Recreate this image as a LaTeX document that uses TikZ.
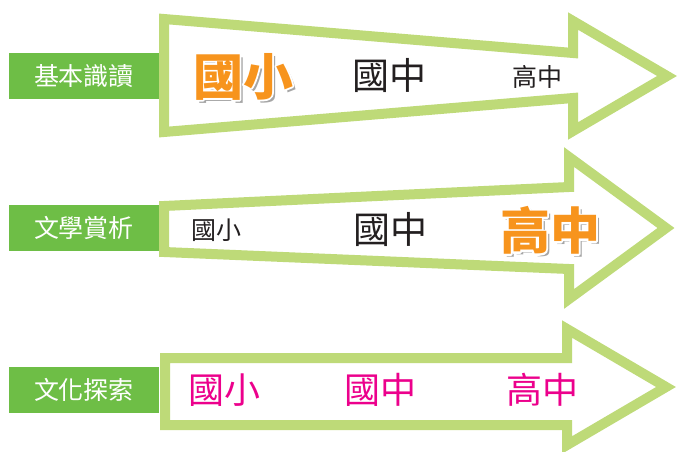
\documentclass[tikz,border=0pt]{standalone}
\usepackage{fontspec}
\newfontfamily\cjk{Noto Sans CJK TC}
\definecolor{arrowgreen}{RGB}{190,218,120}
\definecolor{labelgreen}{RGB}{110,190,70}
\definecolor{hlorange}{RGB}{247,148,29}
\definecolor{hlpink}{RGB}{236,0,140}
\definecolor{inkblack}{RGB}{35,31,32}
\newcommand{\glowtext}[1]{%
  \makebox[0pt][l]{\hspace{3pt}\raisebox{-3pt}{\textcolor{black!35}{#1}}}%
  \makebox[0pt][l]{\special{pdf:literal direct 1 Tr 3.5 w 1 j 1 1 1 RG}#1\special{pdf:literal direct 0 Tr}}%
  #1}

\begin{document}
\begin{tikzpicture}[x=1pt,y=-1pt,
  arrow/.style={draw=arrowgreen,line width=10pt,line join=miter,fill=white},
  label/.style={fill=labelgreen,text=white,font=\cjk\fontsize{25}{25}\selectfont,minimum width=150pt,minimum height=46pt,inner sep=0pt},
  big/.style={text=hlorange,font=\cjk\bfseries\fontsize{50}{50}\selectfont,inner sep=0pt},
  mid/.style={text=inkblack,font=\cjk\fontsize{37}{37}\selectfont,inner sep=0pt},
  small/.style={text=inkblack,font=\cjk\fontsize{25}{25}\selectfont,inner sep=0pt},
  pink/.style={text=hlpink,font=\cjk\fontsize{36}{36}\selectfont,inner sep=0pt}]
\useasboundingbox (0,0) rectangle (680,452);

\draw[arrow] (164,19) -- (573,53) -- (573,21) -- (667,76) -- (573,131) -- (573,98) -- (164,132) -- cycle;
\draw[arrow] (164,206) -- (569,187) -- (569,157) -- (666,228) -- (569,299) -- (569,269) -- (164,252) -- cycle;
\draw[arrow] (165,358) -- (567,358) -- (567,329) -- (666,387) -- (567,445) -- (567,425) -- (165,425) -- cycle;

\node[label] (basic) at (84,76) {基本識讀};
\node[label] (lit) at (84,228) {文學賞析};
\node[label] (culture) at (84,390) {文化探索};

\node[big] (basicA) at (243,78) {\glowtext{國小}};
\node[mid] (basicB) at (389,75) {國中};
\node[small] (basicC) at (537,77) {高中};

\node[small] (litA) at (216,230) {國小};
\node[mid] (litB) at (390,229) {國中};
\node[big] (litC) at (550,232) {\glowtext{高中}};

\node[pink] (cultureA) at (224,390) {國小};
\node[pink] (cultureB) at (380,390) {國中};
\node[pink] (cultureC) at (542,390) {高中};
\end{tikzpicture}
\end{document}
